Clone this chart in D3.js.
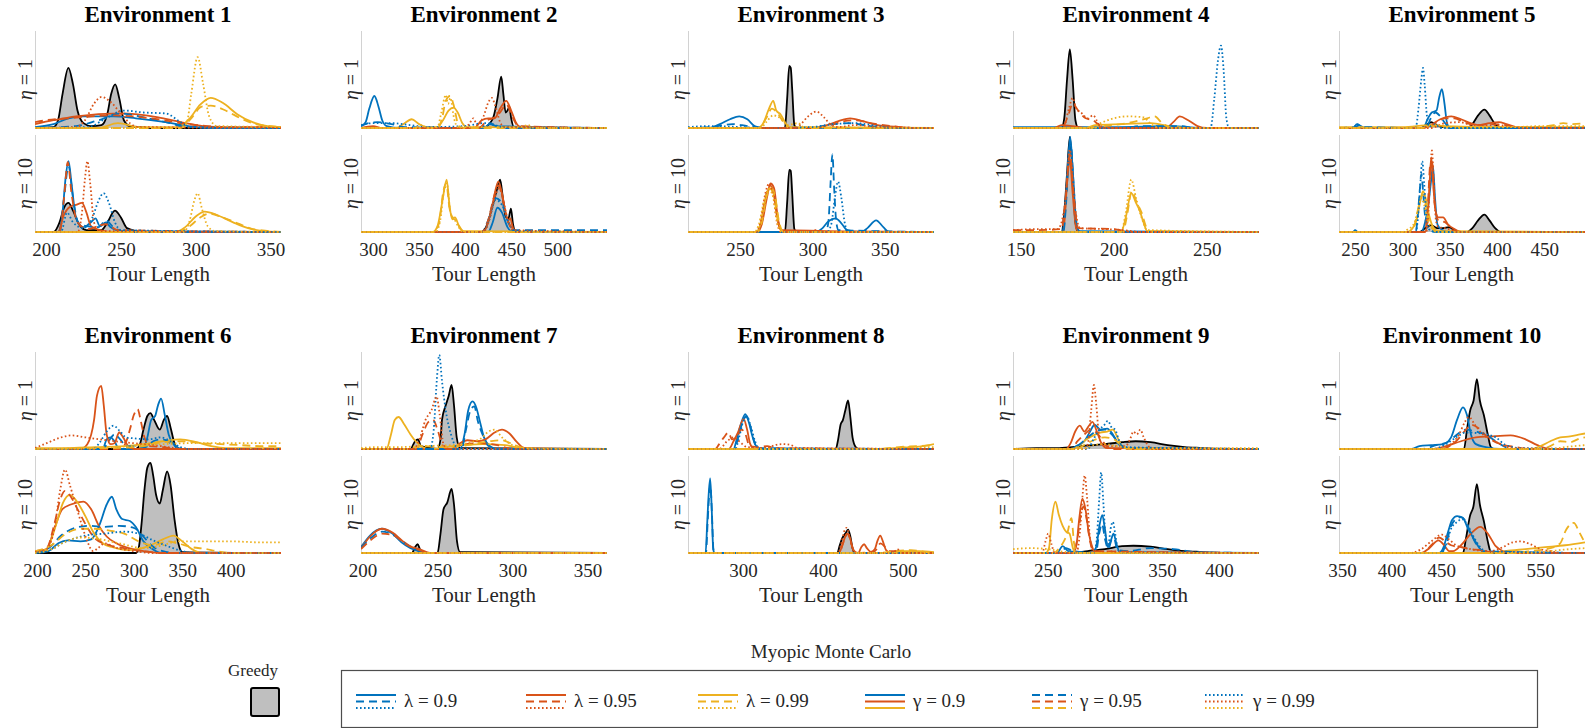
<!DOCTYPE html>
<html>
<head>
<meta charset="utf-8">
<script src="https://cdn.jsdelivr.net/npm/d3@7"></script>
<style>
  body { margin: 0; background: #fff; }
  svg, svg text { font-family: "Liberation Serif", "Times New Roman", serif; }
  .title { font-weight: bold; font-size: 23px; text-anchor: middle; fill: #000; }
  .tick text { font-size: 19px; fill: #262626; }
  .xlabel { font-size: 21px; fill: #262626; text-anchor: middle; }
  .ylabel { font-size: 20px; fill: #262626; text-anchor: middle; }
  .greedy-fill { fill: #bfbfbf; stroke: none; }
  .greedy-line { fill: none; stroke: #000; stroke-width: 1.8px; }
  .mmc { fill: none; stroke-width: 1.8px; }
  .yaxis { stroke: #d2d2d2; stroke-width: 1px; }
  .legend text { font-size: 19px; fill: #262626; }
  .legend text.greedy-label { font-size: 17px; }
</style>
</head>
<body>
<script>
var envNames = ["Environment 1", "Environment 2", "Environment 3", "Environment 4", "Environment 5",
                "Environment 6", "Environment 7", "Environment 8", "Environment 9", "Environment 10"];
var etaValues = ["1", "10"];
var lambdas = ["0.9", "0.95", "0.99"];
var gammas = ["0.9", "0.95", "0.99"];
var xDomains = [[192.6, 357], [287, 554], [214, 384], [146, 278], [233, 493],
                [198, 452], [199, 363], [231, 539], [219.5, 435], [347, 595]];
var xTicks = [[200, 250, 300, 350], [300, 350, 400, 450, 500], [250, 300, 350], [150, 200, 250],
              [250, 300, 350, 400, 450], [200, 250, 300, 350, 400], [200, 250, 300, 350],
              [300, 400, 500], [250, 300, 350, 400], [350, 400, 450, 500, 550]];

// densities: [tour length, relative height]; mmc rows are [lambda, gamma, points]
var greedy1a = [[192.6,0],[205,0.01],[208,0.08],[211,0.35],[214.9,0.62],[218,0.45],[221,0.18],[225,0.05],[230,0.02],[237,0.03],[241,0.15],[243.5,0.35],[246.2,0.45],[249,0.3],[252,0.08],[256,0.02],[263,0.01],[270,0],[357,0]];
var mmc1a = [
  ["0.9","0.9",[[192.6,0.01],[205,0.04],[215,0.1],[225,0.12],[245,0.12],[260,0.1],[280,0.06],[295,0.02],[310,0],[357,0]]],
  ["0.9","0.95",[[192.6,0],[220,0.02],[235,0.08],[250,0.15],[262,0.12],[280,0.06],[295,0.01],[357,0]]],
  ["0.9","0.99",[[192.6,0],[228,0.01],[240,0.1],[252,0.18],[265,0.16],[280,0.15],[290,0.06],[296,0.01],[357,0]]],
  ["0.95","0.9",[[192.6,0.04],[205,0.08],[220,0.12],[250,0.15],[275,0.11],[290,0.06],[305,0.02],[320,0.01],[357,0.01]]],
  ["0.95","0.95",[[192.6,0.06],[200,0.08],[215,0.1],[245,0.13],[270,0.1],[295,0.04],[320,0.01],[357,0.01]]],
  ["0.95","0.99",[[192.6,0],[220,0.01],[226,0.08],[232,0.25],[237.2,0.32],[243,0.27],[250,0.15],[256,0.05],[262,0.01],[357,0]]],
  ["0.99","0.9",[[192.6,0],[235,0],[248,0.05],[262,0.01],[288,0.01],[296,0.1],[303,0.24],[310,0.31],[318,0.26],[328,0.14],[338,0.06],[348,0.02],[357,0.01]]],
  ["0.99","0.95",[[192.6,0],[290,0],[297,0.1],[304,0.22],[310,0.23],[320,0.18],[330,0.1],[340,0.04],[350,0.02],[357,0.01]]],
  ["0.99","0.99",[[192.6,0],[290,0],[294,0.05],[297,0.35],[301.3,0.73],[305,0.45],[309,0.12],[314,0.02],[357,0.01]]]
];
var greedy1b = [[192.6,0],[205,0],[209,0.1],[212,0.25],[215,0.3],[218,0.22],[222,0.08],[227,0.02],[237,0.02],[241,0.1],[246,0.22],[250,0.15],[254,0.04],[260,0.01],[265,0],[357,0]];
var mmc1b = [
  ["0.9","0.9",[[192.6,0],[208,0],[211,0.2],[213,0.55],[215,0.73],[217,0.5],[220,0.15],[225,0.05],[230,0.1],[233,0.14],[236,0.06],[240,0.1],[243,0.05],[250,0.01],[357,0]]],
  ["0.9","0.95",[[192.6,0],[209,0],[212,0.35],[215,0.68],[218,0.35],[222,0.08],[235,0.05],[240,0.12],[245,0.05],[255,0],[357,0]]],
  ["0.9","0.99",[[192.6,0],[210,0],[214,0.2],[218,0.1],[225,0.04],[231,0.15],[235,0.32],[238.4,0.4],[242,0.3],[246,0.1],[250,0.02],[357,0]]],
  ["0.95","0.9",[[192.6,0],[208,0],[212,0.18],[216,0.26],[220,0.28],[224,0.3],[227,0.2],[230,0.06],[236,0.02],[245,0],[357,0]]],
  ["0.95","0.95",[[192.6,0],[209,0],[212,0.35],[214.5,0.72],[217,0.4],[221,0.1],[228,0.03],[240,0.08],[248,0.02],[357,0]]],
  ["0.95","0.99",[[192.6,0],[221,0],[224,0.2],[226,0.55],[227.6,0.73],[229.5,0.5],[232,0.1],[236,0.01],[357,0]]],
  ["0.99","0.9",[[192.6,0],[286,0],[293,0.05],[300,0.16],[306,0.21],[315,0.17],[325,0.1],[335,0.04],[345,0.01],[357,0]]],
  ["0.99","0.95",[[192.6,0],[288,0],[296,0.06],[303,0.15],[309,0.19],[318,0.15],[328,0.09],[338,0.03],[350,0.01],[357,0]]],
  ["0.99","0.99",[[192.6,0],[292,0],[296,0.12],[299,0.32],[301.3,0.4],[304,0.25],[308,0.06],[313,0.01],[357,0]]]
];

var greedy2a = [[287,0],[420,0],[426,0.04],[431,0.12],[435,0.3],[439.2,0.53],[441.5,0.35],[444,0.16],[446,0.18],[448,0.22],[450,0.1],[453,0.01],[554,0]];
var mmc2a = [
  ["0.9","0.9",[[287,0.02],[292,0.06],[296,0.2],[301.5,0.33],[306,0.22],[310,0.08],[315,0.02],[330,0],[420,0],[428,0.05],[432,0.02],[554,0]]],
  ["0.9","0.95",[[287,0.02],[295,0.05],[305,0.06],[320,0.04],[335,0.01],[415,0],[425,0.04],[435,0.02],[445,0],[554,0]]],
  ["0.9","0.99",[[287,0.03],[300,0.05],[320,0.05],[340,0.03],[360,0.01],[400,0.02],[420,0.05],[430,0.04],[440,0.01],[554,0]]],
  ["0.95","0.9",[[287,0],[300,0.02],[310,0],[410,0],[418,0.08],[425,0.1],[432,0.1],[438,0.2],[444.6,0.28],[450,0.18],[455,0.06],[460,0.01],[554,0]]],
  ["0.95","0.95",[[287,0],[415,0],[424,0.08],[430,0.1],[437,0.15],[445,0.24],[451,0.12],[458,0.02],[554,0]]],
  ["0.95","0.99",[[287,0],[400,0],[405,0.05],[409,0.1],[413,0.03],[420,0.12],[425,0.26],[429,0.31],[433,0.22],[438,0.06],[443,0.01],[554,0]]],
  ["0.99","0.9",[[287,0],[325,0],[333,0.04],[342,0.09],[350,0.04],[358,0.01],[370,0.01],[376,0.08],[382,0.18],[387.4,0.21],[392,0.16],[397,0.05],[402,0.01],[554,0]]],
  ["0.99","0.95",[[287,0],[370,0],[375,0.1],[379,0.28],[383.7,0.33],[388,0.22],[392,0.05],[396,0],[554,0]]],
  ["0.99","0.99",[[287,0],[345,0],[352,0.03],[360,0],[370,0.01],[374,0.15],[379,0.34],[381.5,0.25],[384,0.31],[388,0.1],[392,0.01],[460,0.01],[468,0.03],[475,0],[554,0]]]
];
var greedy2b = [[287,0],[418,0],[424,0.08],[430,0.28],[434,0.42],[438,0.54],[441,0.35],[444,0.16],[447,0.14],[449.7,0.24],[452,0.08],[455,0],[554,0]];
var mmc2b = [
  ["0.9","0.9",[[287,0],[425,0],[430,0.1],[435,0.25],[440,0.2],[446,0.05],[452,0],[554,0]]],
  ["0.9","0.95",[[287,0],[418,0],[425,0.12],[433,0.35],[440,0.3],[446,0.12],[452,0.02],[460,0.02],[554,0.02]]],
  ["0.9","0.99",[[287,0],[420,0],[426,0.12],[433,0.33],[440,0.28],[447,0.1],[453,0.01],[554,0]]],
  ["0.95","0.9",[[287,0],[420,0],[425,0.1],[430,0.3],[436,0.52],[440,0.4],[444,0.2],[447,0.12],[449,0.14],[452,0.04],[456,0],[554,0]]],
  ["0.95","0.95",[[287,0],[418,0],[425,0.12],[431,0.35],[436,0.48],[440,0.38],[445,0.15],[450,0.05],[455,0],[554,0]]],
  ["0.95","0.99",[[287,0],[420,0],[426,0.12],[432,0.35],[437,0.45],[442,0.3],[447,0.1],[452,0.02],[554,0]]],
  ["0.99","0.9",[[287,0],[365,0],[370,0.06],[375,0.3],[380,0.54],[383,0.28],[386,0.13],[389,0.15],[393,0.07],[398,0.01],[554,0]]],
  ["0.99","0.95",[[287,0],[366,0],[372,0.1],[376,0.4],[379.5,0.5],[383,0.25],[387,0.14],[390,0.12],[395,0.03],[400,0],[554,0]]],
  ["0.99","0.99",[[287,0],[368,0],[373,0.12],[377,0.42],[380.5,0.48],[384,0.2],[389,0.12],[393,0.05],[398,0],[554,0]]]
];

var greedy3a = [[214,0],[281,0],[282.5,0.3],[284,0.64],[285,0.62],[286,0.4],[287.5,0.03],[289,0],[384,0]];
var mmc3a = [
  ["0.9","0.9",[[214,0],[228,0],[236,0.04],[243,0.09],[249.4,0.12],[255,0.09],[260,0.02],[265,0],[384,0]]],
  ["0.9","0.95",[[214,0],[230,0.01],[245,0.04],[255,0.02],[270,0],[300,0],[310,0.03],[325,0.05],[340,0.02],[355,0],[384,0]]],
  ["0.9","0.99",[[214,0.01],[230,0.02],[250,0.01],[270,0],[300,0.01],[315,0.04],[330,0.05],[345,0.02],[360,0],[384,0]]],
  ["0.95","0.9",[[214,0],[300,0],[310,0.03],[318,0.07],[326,0.1],[335,0.07],[345,0.03],[360,0.01],[375,0],[384,0]]],
  ["0.95","0.95",[[214,0],[300,0],[312,0.03],[322,0.07],[330,0.08],[340,0.05],[355,0.02],[370,0],[384,0]]],
  ["0.95","0.99",[[214,0],[288,0],[292,0.04],[297,0.12],[302.7,0.17],[308,0.11],[313,0.03],[318,0.01],[330,0.03],[345,0.01],[384,0]]],
  ["0.99","0.9",[[214,0],[262,0],[266,0.05],[270,0.2],[272.9,0.28],[275,0.18],[278,0.14],[281,0.06],[284,0.01],[384,0]]],
  ["0.99","0.95",[[214,0],[263,0],[268,0.1],[272,0.2],[276,0.15],[280,0.06],[284,0],[384,0]]],
  ["0.99","0.99",[[214,0],[264,0],[268,0.06],[273,0.13],[278,0.1],[283,0.03],[290,0.05],[294,0.01],[384,0]]]
];
var greedy3b = [[214,0],[281,0],[282.5,0.3],[284,0.64],[285,0.63],[286,0.4],[287.5,0.03],[289,0],[384,0]];
var mmc3b = [
  ["0.9","0.9",[[214,0],[302,0],[307,0.04],[311,0.11],[316,0.14],[320,0.09],[324,0.02],[334,0],[338,0.04],[344,0.12],[349,0.05],[353,0],[384,0]]],
  ["0.9","0.95",[[214,0],[309,0],[311,0.1],[312.5,0.5],[313.8,0.8],[315,0.45],[316.5,0.1],[318,0.02],[384,0]]],
  ["0.9","0.99",[[214,0],[310,0],[313,0.08],[315.5,0.35],[317.7,0.52],[320,0.35],[322.5,0.08],[325,0],[384,0]]],
  ["0.95","0.9",[[214,0],[262,0],[265,0.08],[268.5,0.35],[271,0.5],[273.5,0.45],[276,0.15],[278.5,0.02],[384,0]]],
  ["0.95","0.95",[[214,0],[262,0],[265,0.1],[268,0.38],[270.5,0.48],[273,0.42],[276,0.12],[279,0],[384,0]]],
  ["0.95","0.99",[[214,0],[261,0],[264,0.1],[267.5,0.4],[270,0.5],[272.5,0.4],[275.5,0.1],[278,0],[300,0],[302,0.02],[305,0],[384,0]]],
  ["0.99","0.9",[[214,0],[261,0],[264,0.08],[267,0.3],[270,0.45],[273,0.4],[276,0.12],[279,0],[384,0]]],
  ["0.99","0.95",[[214,0],[262,0],[265,0.1],[268,0.35],[271,0.46],[274,0.38],[277,0.1],[280,0],[384,0]]],
  ["0.99","0.99",[[214,0],[260,0],[263,0.08],[267,0.35],[270,0.44],[273,0.35],[276,0.08],[279,0],[384,0]]]
];

var greedy4a = [[146,0],[172,0],[173.5,0.1],[175,0.5],[176.5,0.81],[178,0.5],[179.5,0.08],[181,0],[278,0]];
var mmc4a = [
  ["0.9","0.9",[[146,0.01],[200,0.01],[230,0.02],[250,0],[278,0]]],
  ["0.9","0.95",[[146,0],[205,0],[215,0.02],[235,0.02],[245,0],[278,0]]],
  ["0.9","0.99",[[146,0],[252,0],[254,0.3],[256,0.7],[257.6,0.85],[259,0.6],[260.5,0.1],[262,0],[278,0]]],
  ["0.95","0.9",[[146,0],[168,0],[172,0.03],[178,0.02],[185,0],[228,0],[232,0.06],[235.5,0.12],[240,0.08],[245,0.02],[250,0],[278,0]]],
  ["0.95","0.95",[[146,0],[172,0],[176,0.15],[178,0.25],[181,0.18],[185,0.1],[189,0.08],[193,0.02],[200,0],[278,0]]],
  ["0.95","0.99",[[146,0],[173,0],[176,0.2],[178,0.31],[180,0.2],[183,0.15],[186,0.1],[189,0.13],[192,0.04],[196,0],[278,0]]],
  ["0.99","0.9",[[146,0],[185,0],[190,0.03],[205,0.04],[220,0.05],[230,0.02],[240,0],[278,0]]],
  ["0.99","0.95",[[146,0],[188,0],[195,0.02],[210,0.06],[218,0.1],[222,0.12],[226,0.05],[232,0],[278,0]]],
  ["0.99","0.99",[[146,0],[188,0],[193,0.05],[200,0.1],[208,0.12],[216,0.11],[220,0.04],[225,0],[278,0]]]
];
var greedy4b = [[146,0],[172,0],[173.5,0.2],[175,0.6],[176.5,0.98],[178,0.6],[179.5,0.1],[181,0],[278,0]];
var mmc4b = [
  ["0.9","0.9",[[146,0],[172.5,0],[174,0.25],[175.5,0.7],[176.7,0.98],[178,0.65],[179.5,0.2],[181,0.01],[278,0]]],
  ["0.9","0.95",[[146,0],[173,0],[174.5,0.3],[176,0.8],[177,0.9],[178.5,0.5],[180,0.1],[182,0],[278,0]]],
  ["0.9","0.99",[[146,0],[278,0]]],
  ["0.95","0.9",[[146,0],[173,0],[175,0.5],[176.5,0.75],[178,0.4],[180,0.03],[182,0],[278,0]]],
  ["0.95","0.95",[[146,0.02],[160,0.02],[172,0.03],[174.5,0.4],[176.5,0.8],[178.5,0.4],[181,0.04],[200,0.03],[210,0],[278,0]]],
  ["0.95","0.99",[[146,0.02],[160,0.03],[170,0.03],[174,0.3],[176.5,0.85],[179,0.3],[182,0.04],[195,0.03],[205,0.02],[215,0],[278,0]]],
  ["0.99","0.9",[[146,0],[204,0],[206.5,0.15],[209.5,0.4],[212,0.3],[214,0.22],[216,0.1],[218,0.01],[278,0]]],
  ["0.99","0.95",[[146,0],[205,0],[207,0.15],[209.8,0.42],[212.5,0.3],[215,0.2],[217.5,0.05],[219,0],[278,0]]],
  ["0.99","0.99",[[146,0],[204,0],[206.5,0.2],[209.5,0.54],[212,0.35],[215,0.15],[218,0.02],[278,0]]]
];

var greedy5a = [[233,0],[320,0],[325,0.03],[330.5,0.06],[336,0.03],[342,0.01],[368,0],[374,0.04],[380,0.13],[386.7,0.19],[392,0.13],[398,0.04],[404,0],[493,0]];
var mmc5a = [
  ["0.9","0.9",[[233,0],[248,0],[252,0.04],[256,0.02],[260,0],[322,0],[327,0.1],[331,0.16],[336,0.18],[339,0.32],[341.8,0.4],[344.5,0.25],[347,0.06],[350,0],[493,0]]],
  ["0.9","0.95",[[233,0],[250,0.01],[255,0.03],[260,0.01],[325,0],[330,0.1],[335,0.16],[340,0.12],[346,0.04],[352,0],[493,0]]],
  ["0.9","0.99",[[233,0],[248,0],[252,0.04],[256,0],[314,0],[317,0.2],[320,0.5],[321.8,0.62],[323.5,0.45],[326,0.12],[329,0.02],[335,0.04],[340,0],[493,0]]],
  ["0.95","0.9",[[233,0],[322,0],[330,0.03],[340,0.09],[351.6,0.12],[362,0.09],[372,0.05],[380,0.03],[392,0.05],[402,0.06],[410,0.04],[420,0.01],[430,0],[493,0]]],
  ["0.95","0.95",[[233,0],[325,0],[335,0.05],[345,0.1],[355,0.1],[365,0.06],[378,0.03],[395,0.04],[410,0.03],[425,0],[493,0]]],
  ["0.95","0.99",[[233,0],[330,0],[345,0.05],[360,0.06],[375,0.03],[400,0.03],[420,0.01],[493,0]]],
  ["0.99","0.9",[[233,0.01],[300,0.01],[330,0.03],[345,0.02],[400,0.01],[493,0.01]]],
  ["0.99","0.95",[[233,0],[320,0],[330,0.02],[350,0.01],[440,0.01],[460,0.03],[470,0.05],[480,0.04],[493,0.05]]],
  ["0.99","0.99",[[233,0],[320,0],[333,0.03],[345,0.02],[360,0],[420,0.01],[450,0.02],[493,0.02]]]
];
var greedy5b = [[233,0],[318,0],[324,0.04],[330.5,0.07],[337,0.04],[343,0.04],[349,0.05],[355,0.02],[362,0],[368,0],[374,0.04],[380,0.12],[386.7,0.18],[392,0.12],[398,0.04],[404,0],[493,0]];
var mmc5b = [
  ["0.9","0.9",[[233,0],[248,0],[250,0.02],[253,0],[320,0],[324,0.1],[327,0.25],[330,0.5],[332.3,0.68],[334.5,0.35],[337,0.08],[342,0.02],[350,0],[493,0]]],
  ["0.9","0.95",[[233,0],[314,0],[316.5,0.2],[318.5,0.45],[320,0.6],[322,0.4],[324.5,0.12],[328,0.03],[335,0],[493,0]]],
  ["0.9","0.99",[[233,0],[314,0],[316.5,0.15],[319,0.5],[321,0.73],[323,0.5],[325.5,0.15],[328,0.03],[335,0],[493,0]]],
  ["0.95","0.9",[[233,0],[324,0],[327,0.2],[329,0.55],[330.5,0.77],[332.5,0.5],[335,0.22],[338,0.15],[343,0.15],[348,0.08],[355,0.03],[362,0],[493,0]]],
  ["0.95","0.95",[[233,0],[324,0],[327,0.3],[329.5,0.7],[331.5,0.72],[334,0.3],[338,0.12],[345,0.1],[352,0.04],[360,0],[493,0]]],
  ["0.95","0.99",[[233,0],[325,0],[327.5,0.2],[329.5,0.6],[331.2,0.84],[333,0.55],[335.5,0.12],[338,0.05],[345,0.04],[352,0.02],[358,0],[493,0]]],
  ["0.99","0.9",[[233,0],[305,0],[310,0.03],[315,0.12],[319,0.32],[321.8,0.42],[324.5,0.35],[328,0.18],[332,0.06],[338,0.01],[493,0]]],
  ["0.99","0.95",[[233,0],[308,0],[313,0.08],[318,0.3],[321,0.38],[324,0.32],[327,0.15],[331,0.05],[336,0],[493,0]]],
  ["0.99","0.99",[[233,0],[300,0],[306,0.03],[312,0.08],[317,0.25],[320,0.35],[323,0.28],[327,0.12],[332,0.03],[338,0],[493,0]]]
];

var greedy6a = [[198,0],[302,0],[306,0.04],[310,0.2],[314,0.34],[317.2,0.37],[321,0.3],[326.8,0.2],[331,0.3],[334.4,0.34],[338,0.22],[342,0.06],[346,0],[452,0]];
var mmc6a = [
  ["0.9","0.9",[[198,0],[268,0],[272,0.1],[276,0.12],[280,0.08],[285,0],[310,0],[314,0.12],[318,0.3],[322,0.34],[325,0.45],[328.2,0.52],[332,0.35],[336,0.15],[341,0.05],[348,0],[452,0]]],
  ["0.9","0.95",[[198,0],[268,0],[274,0.08],[280,0.15],[286,0.1],[292,0.03],[312,0.02],[320,0.08],[330,0.1],[340,0.05],[350,0],[452,0]]],
  ["0.9","0.99",[[198,0],[258,0],[265,0.07],[272,0.18],[279,0.24],[286,0.18],[292,0.12],[300,0.11],[315,0.1],[328,0.12],[338,0.08],[348,0.02],[360,0],[452,0]]],
  ["0.95","0.9",[[198,0],[245,0],[252,0.05],[259,0.3],[262,0.55],[266.4,0.65],[269,0.45],[272,0.15],[276,0.05],[280,0.06],[285,0.17],[289,0.12],[295,0.02],[300,0],[452,0]]],
  ["0.95","0.95",[[198,0],[285,0],[291,0.05],[296,0.2],[300,0.35],[304,0.41],[307,0.3],[311,0.12],[316,0.03],[330,0.02],[345,0],[452,0]]],
  ["0.95","0.99",[[198,0.01],[210,0.06],[225,0.12],[236,0.14],[250,0.12],[265,0.1],[280,0.08],[300,0.06],[320,0.04],[335,0.02],[350,0],[452,0]]],
  ["0.99","0.9",[[198,0.01],[230,0.01],[260,0.02],[290,0.03],[310,0.05],[330,0.08],[348,0.1],[365,0.07],[380,0.03],[395,0.01],[452,0.01]]],
  ["0.99","0.95",[[198,0],[280,0.01],[310,0.03],[330,0.07],[350,0.08],[370,0.06],[390,0.05],[410,0.04],[430,0.03],[452,0.03]]],
  ["0.99","0.99",[[198,0],[260,0.01],[300,0.03],[330,0.05],[360,0.06],[400,0.06],[452,0.06]]]
];
var greedy6b = [[198,0],[302,0],[305,0.05],[308,0.3],[311,0.65],[314,0.88],[317.2,0.93],[320,0.8],[323,0.6],[326.8,0.51],[330,0.65],[334.4,0.84],[338,0.7],[342,0.35],[346,0.1],[350,0.01],[452,0]];
var mmc6b = [
  ["0.9","0.9",[[198,0],[212,0.02],[222,0.1],[232,0.13],[245,0.12],[256,0.14],[265,0.3],[272,0.5],[277.4,0.58],[282,0.45],[288,0.35],[296,0.33],[302,0.27],[310,0.12],[318,0.05],[328,0],[452,0]]],
  ["0.9","0.95",[[198,0.01],[212,0.05],[225,0.18],[240,0.26],[255,0.28],[270,0.27],[285,0.28],[300,0.26],[310,0.17],[318,0.08],[330,0.02],[345,0],[452,0]]],
  ["0.9","0.99",[[198,0],[215,0.04],[230,0.12],[250,0.18],[270,0.2],[290,0.22],[305,0.2],[320,0.13],[335,0.07],[350,0.02],[360,0],[452,0]]],
  ["0.95","0.9",[[198,0.01],[210,0.04],[218,0.25],[226,0.45],[235,0.5],[248,0.53],[256,0.45],[264,0.28],[272,0.17],[282,0.1],[295,0.05],[310,0.02],[330,0],[452,0]]],
  ["0.95","0.95",[[198,0.02],[210,0.05],[218,0.3],[224,0.55],[229,0.64],[235,0.58],[242,0.45],[250,0.3],[260,0.15],[275,0.08],[290,0.05],[310,0.02],[330,0],[452,0]]],
  ["0.95","0.99",[[198,0.01],[210,0.04],[218,0.25],[224,0.65],[229,0.86],[234,0.7],[240,0.5],[246,0.3],[252,0.12],[258,0.02],[263,0.05],[270,0.1],[280,0.06],[300,0.02],[320,0],[452,0]]],
  ["0.99","0.9",[[198,0.01],[210,0.04],[220,0.3],[227,0.52],[234,0.6],[242,0.52],[250,0.38],[258,0.22],[268,0.1],[278,0.06],[295,0.03],[315,0.07],[330,0.14],[341,0.18],[350,0.12],[360,0.04],[370,0],[452,0]]],
  ["0.99","0.95",[[198,0.02],[215,0.08],[230,0.2],[245,0.25],[260,0.25],[275,0.23],[290,0.2],[305,0.12],[320,0.08],[335,0.12],[345,0.1],[360,0.06],[375,0.04],[385,0.02],[400,0],[452,0]]],
  ["0.99","0.99",[[198,0],[215,0.04],[230,0.12],[245,0.16],[260,0.15],[285,0.1],[310,0.05],[330,0.08],[345,0.12],[370,0.12],[400,0.12],[430,0.11],[452,0.11]]]
];

var greedy7a = [[199,0],[232,0],[235,0.08],[237,0.1],[239,0.03],[250,0],[252,0.1],[253,0.3],[255.5,0.45],[257.5,0.55],[259.4,0.66],[261,0.45],[262.8,0.12],[265,0.01],[363,0]];
var mmc7a = [
  ["0.9","0.9",[[199,0],[265,0],[268,0.15],[270.5,0.4],[273.4,0.49],[276,0.42],[278,0.3],[281,0.12],[285,0.03],[290,0],[363,0]]],
  ["0.9","0.95",[[199,0],[266,0],[269,0.2],[272,0.4],[274.5,0.44],[277,0.28],[280,0.15],[284,0.03],[290,0],[363,0]]],
  ["0.9","0.99",[[199,0],[245,0],[247.5,0.2],[249.5,0.7],[251.2,0.97],[253,0.7],[256,0.35],[259,0.15],[262,0.03],[265,0],[363,0]]],
  ["0.95","0.9",[[199,0],[260,0],[265,0.06],[270,0.09],[276,0.08],[282,0.1],[288,0.17],[293,0.2],[298,0.16],[303,0.07],[308,0.01],[363,0]]],
  ["0.95","0.95",[[199,0],[236,0],[240,0.15],[244,0.28],[247,0.3],[250,0.2],[253,0.05],[256,0],[268,0.05],[278,0.06],[290,0.04],[300,0],[363,0]]],
  ["0.95","0.99",[[199,0],[234,0],[238,0.1],[242,0.3],[246,0.4],[249.4,0.54],[251.5,0.35],[254,0.05],[258,0],[363,0]]],
  ["0.99","0.9",[[199,0],[216,0],[219,0.15],[221.5,0.3],[224,0.33],[228,0.25],[232,0.15],[236,0.07],[240,0.02],[245,0],[260,0.03],[280,0.05],[295,0.04],[310,0],[363,0]]],
  ["0.99","0.95",[[199,0],[230,0],[240,0.03],[255,0.02],[270,0.04],[285,0.08],[293,0.09],[300,0.05],[308,0.01],[320,0],[363,0]]],
  ["0.99","0.99",[[199,0.01],[210,0.02],[225,0.02],[240,0.03],[260,0.04],[278,0.1],[284,0.18],[288,0.2],[293,0.12],[300,0.04],[310,0.01],[363,0]]]
];
var greedy7b = [[199,0],[233,0],[235,0.06],[236.8,0.09],[238.5,0.03],[241,0],[250,0],[252,0.2],[254,0.45],[256.5,0.52],[259.4,0.66],[261,0.5],[263,0.12],[265,0.01],[363,0]];
var mmc7b = [
  ["0.9","0.9",[[199,0.06],[205,0.18],[212.8,0.25],[220,0.2],[226,0.11],[232,0.05],[238,0.02],[245,0],[363,0]]],
  ["0.9","0.95",[[199,0.05],[206,0.16],[213,0.22],[221,0.18],[228,0.1],[236,0.03],[245,0],[363,0]]],
  ["0.9","0.99",[[199,0],[363,0]]],
  ["0.95","0.9",[[199,0.05],[205,0.17],[213,0.25],[220,0.21],[227,0.12],[233,0.06],[238,0.04],[245,0],[363,0]]],
  ["0.95","0.95",[[199,0.04],[206,0.14],[213,0.2],[221,0.18],[228,0.1],[234,0.05],[240,0.02],[245,0],[363,0]]],
  ["0.95","0.99",[[199,0],[363,0]]],
  ["0.99","0.9",[[199,0],[363,0]]],
  ["0.99","0.95",[[199,0],[363,0]]],
  ["0.99","0.99",[[199,0],[363,0]]]
];

var greedy8a = [[231,0],[416,0],[419,0.1],[422,0.25],[425,0.3],[428,0.4],[431.4,0.5],[434,0.35],[437,0.12],[441,0.02],[445,0],[539,0]];
var mmc8a = [
  ["0.9","0.9",[[231,0],[288,0],[292,0.1],[297,0.25],[302.7,0.36],[307,0.28],[311,0.15],[315,0.05],[320,0],[539,0]]],
  ["0.9","0.95",[[231,0],[289,0],[294,0.12],[299,0.27],[304,0.34],[309,0.24],[313,0.1],[318,0.01],[539,0]]],
  ["0.9","0.99",[[231,0],[290,0],[295,0.12],[300,0.28],[305,0.33],[310,0.22],[315,0.08],[320,0],[539,0]]],
  ["0.95","0.9",[[231,0],[282,0],[288,0.08],[294,0.18],[300.6,0.31],[305,0.2],[309,0.05],[314,0],[539,0]]],
  ["0.95","0.95",[[231,0],[265,0],[270,0.05],[276,0.12],[281.7,0.17],[286,0.1],[292,0.12],[298,0.2],[303,0.15],[308,0.03],[320,0.02],[330,0.03],[340,0.01],[539,0]]],
  ["0.95","0.99",[[231,0],[270,0],[280,0.08],[288,0.12],[295,0.08],[305,0.02],[330,0.01],[340,0.04],[350,0.05],[360,0.04],[368,0.01],[539,0]]],
  ["0.99","0.9",[[231,0],[460,0],[490,0.01],[510,0.02],[525,0.03],[539,0.05]]],
  ["0.99","0.95",[[231,0],[470,0],[495,0.02],[520,0.03],[539,0.04]]],
  ["0.99","0.99",[[231,0],[480,0],[510,0.02],[539,0.02]]]
];
var greedy8b = [[231,0],[418,0],[421,0.08],[424,0.15],[428,0.2],[431.4,0.24],[434,0.18],[437,0.05],[440,0],[539,0]];
var mmc8b = [
  ["0.9","0.9",[[231,0],[253,0],[255,0.3],[256.5,0.55],[258.7,0.77],[260.5,0.5],[262.5,0.05],[264,0],[539,0]]],
  ["0.9","0.95",[[231,0],[253.5,0],[255.5,0.3],[257.5,0.6],[259,0.7],[261,0.4],[263,0.02],[265,0],[539,0]]],
  ["0.9","0.99",[[231,0],[539,0]]],
  ["0.95","0.9",[[231,0],[420,0],[425,0.1],[430,0.2],[434,0.15],[438,0.03],[444,0],[448,0.06],[451.5,0.09],[455,0.05],[460,0.01],[465,0.04],[468,0.12],[471.7,0.18],[475,0.12],[479,0.03],[485,0],[539,0]]],
  ["0.95","0.95",[[231,0],[420,0],[426,0.12],[431,0.2],[436,0.08],[441,0],[465,0.02],[472,0.1],[478,0.06],[483,0.02],[492,0.02],[500,0],[539,0]]],
  ["0.95","0.99",[[231,0],[419,0],[423,0.1],[426.5,0.22],[429.7,0.26],[433,0.18],[437,0.05],[441,0],[488,0],[493,0.04],[498,0],[539,0]]],
  ["0.99","0.9",[[231,0],[480,0],[500,0.02],[520,0.02],[539,0.01]]],
  ["0.99","0.95",[[231,0],[470,0],[490,0.02],[510,0.03],[530,0.01],[539,0]]],
  ["0.99","0.99",[[231,0],[539,0]]]
];

var greedy9a = [[219.5,0],[240,0.01],[260,0.01],[280,0.03],[300,0.05],[315,0.07],[327,0.08],[340,0.07],[355,0.04],[370,0.02],[385,0.01],[400,0],[435,0]];
var mmc9a = [
  ["0.9","0.9",[[219.5,0],[270,0],[275,0.03],[282,0.08],[287,0.18],[291,0.25],[296,0.2],[302,0.21],[307,0.15],[312,0.05],[318,0.01],[435,0]]],
  ["0.9","0.95",[[219.5,0],[270,0],[278,0.05],[285,0.12],[292,0.18],[300,0.2],[306,0.15],[312,0.06],[320,0.01],[435,0]]],
  ["0.9","0.99",[[219.5,0],[285,0],[290,0.1],[295,0.2],[299,0.24],[302.6,0.29],[306,0.22],[309,0.2],[312,0.1],[316,0.02],[435,0]]],
  ["0.95","0.9",[[219.5,0],[266,0],[270,0.06],[274,0.18],[278,0.24],[282,0.18],[286,0.24],[289,0.28],[293,0.18],[297,0.06],[302,0.01],[435,0]]],
  ["0.95","0.95",[[219.5,0],[270,0],[276,0.08],[282,0.15],[288,0.2],[294,0.15],[300,0.05],[306,0],[435,0]]],
  ["0.95","0.99",[[219.5,0],[282,0],[285,0.05],[288,0.4],[290.4,0.66],[292.5,0.45],[295,0.12],[298,0.03],[318,0.03],[322,0.1],[325,0.18],[328,0.15],[331,0.2],[334,0.12],[338,0.03],[342,0],[435,0]]],
  ["0.99","0.9",[[219.5,0],[272,0],[278,0.04],[284,0.1],[290,0.14],[296,0.17],[302,0.18],[307,0.2],[311,0.12],[315,0.03],[320,0],[435,0]]],
  ["0.99","0.95",[[219.5,0],[275,0],[283,0.05],[292,0.1],[300,0.12],[308,0.1],[315,0.03],[322,0],[435,0]]],
  ["0.99","0.99",[[219.5,0],[280,0],[290,0.04],[300,0.05],[310,0.03],[330,0.01],[435,0.01]]]
];
var greedy9b = [[219.5,0],[270,0],[285,0.02],[300,0.04],[315,0.07],[325,0.075],[340,0.065],[355,0.04],[370,0.02],[385,0.01],[400,0],[435,0]];
var mmc9b = [
  ["0.9","0.9",[[219.5,0],[258,0],[263,0.07],[268,0.02],[290,0],[293,0.1],[295.5,0.3],[297.7,0.39],[300,0.25],[302.5,0.06],[305,0.12],[307.6,0.2],[310,0.1],[313,0.01],[435,0]]],
  ["0.9","0.95",[[219.5,0],[260,0],[266,0.05],[272,0.02],[292,0],[295,0.2],[297.5,0.3],[300,0.15],[303,0.04],[306,0.14],[308,0.15],[311,0.03],[320,0.02],[340,0.05],[360,0.04],[380,0.01],[435,0]]],
  ["0.9","0.99",[[219.5,0],[290,0],[292.5,0.1],[295,0.55],[296.8,0.83],[298.5,0.55],[301,0.12],[303,0.08],[305,0.25],[307,0.32],[309,0.2],[311.5,0.03],[315,0],[435,0]]],
  ["0.95","0.9",[[219.5,0],[272,0],[275,0.08],[277.5,0.35],[280.3,0.56],[283,0.45],[286,0.2],[289,0.06],[292,0],[435,0]]],
  ["0.95","0.95",[[219.5,0],[272,0],[276,0.15],[279,0.4],[281.5,0.48],[284,0.35],[287,0.12],[290,0.02],[435,0]]],
  ["0.95","0.99",[[219.5,0],[245,0],[248,0.12],[250.3,0.2],[253,0.1],[256,0],[275,0],[278,0.2],[280.5,0.6],[282.3,0.8],[284.5,0.55],[287,0.15],[290,0.02],[435,0]]],
  ["0.99","0.9",[[219.5,0],[248,0],[251,0.05],[253.5,0.35],[256.7,0.53],[259.5,0.4],[263,0.28],[266,0.22],[269,0.2],[272,0.05],[275,0],[435,0]]],
  ["0.99","0.95",[[219.5,0],[255,0],[260,0.05],[264,0.12],[267,0.2],[270.7,0.36],[273,0.1],[276,0],[435,0]]],
  ["0.99","0.99",[[219.5,0.04],[235,0.05],[250,0.04],[260,0.02],[275,0],[435,0]]]
];

var greedy10a = [[347,0],[473,0],[476,0.2],[479.3,0.4],[482.7,0.5],[486,0.72],[489,0.5],[493,0.35],[497,0.15],[500,0.02],[503,0],[595,0]];
var mmc10a = [
  ["0.9","0.9",[[347,0],[420,0],[428,0.03],[440,0.04],[452,0.05],[460,0.12],[466,0.3],[472,0.43],[476,0.35],[480,0.15],[485,0.05],[495,0.02],[510,0],[595,0]]],
  ["0.9","0.95",[[347,0],[430,0],[445,0.04],[458,0.08],[466,0.15],[475,0.2],[485,0.18],[495,0.15],[505,0.08],[515,0.02],[525,0],[595,0]]],
  ["0.9","0.99",[[347,0],[440,0],[455,0.05],[465,0.12],[475,0.17],[490,0.16],[505,0.12],[515,0.04],[530,0.01],[595,0]]],
  ["0.95","0.9",[[347,0],[440,0],[455,0.03],[470,0.08],[485,0.12],[500,0.13],[520,0.14],[535,0.1],[547,0.04],[555,0.01],[565,0],[595,0]]],
  ["0.95","0.95",[[347,0],[450,0],[465,0.08],[475,0.2],[480,0.25],[487,0.22],[497,0.12],[510,0.05],[525,0.02],[540,0],[595,0]]],
  ["0.95","0.99",[[347,0],[450,0],[460,0.05],[468,0.15],[474,0.28],[478,0.33],[484,0.25],[492,0.15],[500,0.1],[510,0.05],[520,0.01],[595,0]]],
  ["0.99","0.9",[[347,0],[540,0],[550,0.03],[560,0.08],[570,0.12],[580,0.13],[590,0.15],[595,0.16]]],
  ["0.99","0.95",[[347,0],[550,0],[560,0.03],[570,0.08],[580,0.07],[590,0.11],[595,0.12]]],
  ["0.99","0.99",[[347,0],[560,0],[575,0.02],[595,0.04]]]
];
var greedy10b = [[347,0],[472,0],[475,0.15],[479,0.38],[482.5,0.48],[486,0.71],[489,0.5],[493,0.33],[497,0.12],[500,0.01],[503,0],[595,0]];
var mmc10b = [
  ["0.9","0.9",[[347,0],[448,0],[452,0.05],[457,0.22],[461,0.34],[466,0.38],[472,0.36],[477,0.25],[482.7,0.15],[488,0.06],[493,0.01],[595,0]]],
  ["0.9","0.95",[[347,0],[450,0],[455,0.1],[460,0.28],[465,0.35],[470,0.37],[475,0.32],[480,0.2],[486,0.08],[492,0.02],[595,0]]],
  ["0.9","0.99",[[347,0],[450,0],[455,0.08],[460,0.25],[466,0.32],[471,0.35],[476,0.3],[482,0.18],[488,0.08],[495,0.02],[595,0]]],
  ["0.95","0.9",[[347,0],[430,0],[438,0.05],[447.3,0.13],[453,0.08],[458,0.02],[462,0.02],[470,0.08],[480,0.2],[489.4,0.27],[497,0.2],[505,0.07],[512,0.02],[520,0],[595,0]]],
  ["0.95","0.95",[[347,0],[432,0],[440,0.08],[448,0.16],[454,0.12],[460,0.08],[470,0.06],[480,0.04],[490,0.03],[500,0.01],[595,0]]],
  ["0.95","0.99",[[347,0],[418,0],[430,0.04],[440,0.12],[450.7,0.19],[458,0.14],[465,0.08],[475,0.05],[485,0.03],[500,0.02],[512,0.06],[522,0.11],[530,0.12],[540,0.09],[550,0.04],[560,0.02],[570,0],[595,0]]],
  ["0.99","0.9",[[347,0],[500,0],[515,0.02],[535,0.04],[555,0.06],[575,0.08],[595,0.11]]],
  ["0.99","0.95",[[347,0],[520,0],[540,0.02],[560,0.05],[570,0.1],[576,0.24],[583.7,0.31],[589,0.22],[595,0.1]]],
  ["0.99","0.99",[[347,0],[540,0],[560,0.02],[580,0.04],[595,0.05]]]
];

var panels = [
  [[greedy1a, mmc1a], [greedy1b, mmc1b]], [[greedy2a, mmc2a], [greedy2b, mmc2b]],
  [[greedy3a, mmc3a], [greedy3b, mmc3b]], [[greedy4a, mmc4a], [greedy4b, mmc4b]],
  [[greedy5a, mmc5a], [greedy5b, mmc5b]], [[greedy6a, mmc6a], [greedy6b, mmc6b]],
  [[greedy7a, mmc7a], [greedy7b, mmc7b]], [[greedy8a, mmc8a], [greedy8b, mmc8b]],
  [[greedy9a, mmc9a], [greedy9b, mmc9b]], [[greedy10a, mmc10a], [greedy10b, mmc10b]]
];

// layout
var colLeft = [35, 361, 688, 1013, 1339], rowTop = [31, 352];
var plotW = 246, subH = 97, subGap = 7;
var serif = "'Liberation Serif', 'Times New Roman', serif";
var lamColor = {"0.9": "#0072BD", "0.95": "#D95319", "0.99": "#EDB120"};
var gamDash = {"0.9": null, "0.95": "8,5", "0.99": "1.6,2.4"};

var svg = d3.select("body").append("svg").attr("width", 1587).attr("height", 728)
  .attr("font-family", serif);
var defs = svg.append("defs");

panels.forEach(function(panel, i) {
  var col = i % 5, row = Math.floor(i / 5);
  var left = colLeft[col], top = rowTop[row];
  var bottom = top + 2 * subH + subGap;
  var x = d3.scaleLinear().domain(xDomains[i]).range([left, left + plotW]);

  svg.append("text").attr("class", "title")
    .attr("x", left + plotW / 2).attr("y", top - 9).text(envNames[i]);

  panel.forEach(function(sub, k) {
    var t = top + k * (subH + subGap);
    var y = d3.scaleLinear().domain([0, 1]).range([t + subH, t]);
    var clipId = "clip" + i + "_" + k;
    defs.append("clipPath").attr("id", clipId).append("rect")
      .attr("x", left).attr("y", t - 3).attr("width", plotW).attr("height", subH + 4);

    svg.append("line").attr("class", "yaxis")
      .attr("x1", left + 0.5).attr("x2", left + 0.5).attr("y1", t).attr("y2", t + subH);

    var g = svg.append("g").attr("clip-path", "url(#" + clipId + ")");
    var area = d3.area().curve(d3.curveMonotoneX)
      .x(function(d) { return x(d[0]); }).y0(y(0)).y1(function(d) { return y(d[1]); });
    var line = d3.line().curve(d3.curveMonotoneX)
      .x(function(d) { return x(d[0]); }).y(function(d) { return y(d[1]); });

    g.append("path").datum(sub[0]).attr("class", "greedy-fill").attr("d", area);
    g.append("path").datum(sub[0]).attr("class", "greedy-line").attr("d", line);

    // solid lines first, then dashed, then dotted
    var curves = sub[1].slice().sort(function(a, b) {
      return (gammas.indexOf(a[1]) - gammas.indexOf(b[1])) || (lambdas.indexOf(a[0]) - lambdas.indexOf(b[0]));
    });
    g.selectAll(".mmc").data(curves).enter().append("path")
      .attr("class", "mmc")
      .attr("stroke", function(d) { return lamColor[d[0]]; })
      .attr("stroke-dasharray", function(d) { return gamDash[d[1]]; })
      .attr("d", function(d) { return line(d[2]); });

    var yl = svg.append("text").attr("class", "ylabel")
      .attr("transform", "translate(" + (left - 3) + "," + (t + subH / 2) + ") rotate(-90)");
    yl.append("tspan").attr("font-style", "italic").text("\u03b7");
    yl.append("tspan").text(" = " + etaValues[k]);
  });

  var ax = svg.append("g").attr("transform", "translate(0," + bottom + ")")
    .call(d3.axisBottom(x).tickValues(xTicks[i]).tickSize(0).tickPadding(11).tickFormat(d3.format("d")));
  ax.attr("font-family", serif).attr("font-size", 19);
  ax.select(".domain").remove();

  svg.append("text").attr("class", "xlabel")
    .attr("x", left + plotW / 2).attr("y", bottom + 49).text("Tour Length");
});

// legend
var leg = svg.append("g").attr("class", "legend");
leg.append("text").attr("class", "greedy-label").attr("x", 253).attr("y", 676)
  .attr("text-anchor", "middle").text("Greedy");
leg.append("rect").attr("x", 251).attr("y", 688).attr("width", 28).attr("height", 28).attr("rx", 2)
  .attr("fill", "#bfbfbf").attr("stroke", "#000").attr("stroke-width", 2);
leg.append("text").attr("x", 831).attr("y", 658).attr("text-anchor", "middle").text("Myopic Monte Carlo");
leg.append("rect").attr("x", 341.5).attr("y", 670.5).attr("width", 1196).attr("height", 57)
  .attr("fill", "none").attr("stroke", "#4d4d4d").attr("stroke-width", 1.2);

var entryX = [356, 526, 698, 865, 1032, 1205];
var entries = lambdas.map(function(l) {
  return { sym: "\u03bb", val: l, rows: gammas.map(function(gm) { return [l, gm]; }) };
}).concat(gammas.map(function(gm) {
  return { sym: "\u03b3", val: gm, rows: lambdas.map(function(l) { return [l, gm]; }) };
}));
entries.forEach(function(e, j) {
  var ex = entryX[j];
  e.rows.forEach(function(r, m) {
    leg.append("line").attr("x1", ex).attr("x2", ex + 40)
      .attr("y1", 695 + m * 6.5).attr("y2", 695 + m * 6.5)
      .attr("stroke", lamColor[r[0]]).attr("stroke-width", 1.8)
      .attr("stroke-dasharray", gamDash[r[1]]);
  });
  leg.append("text").attr("x", ex + 48).attr("y", 707).text(e.sym + " = " + e.val);
});
</script>
</body>
</html>
